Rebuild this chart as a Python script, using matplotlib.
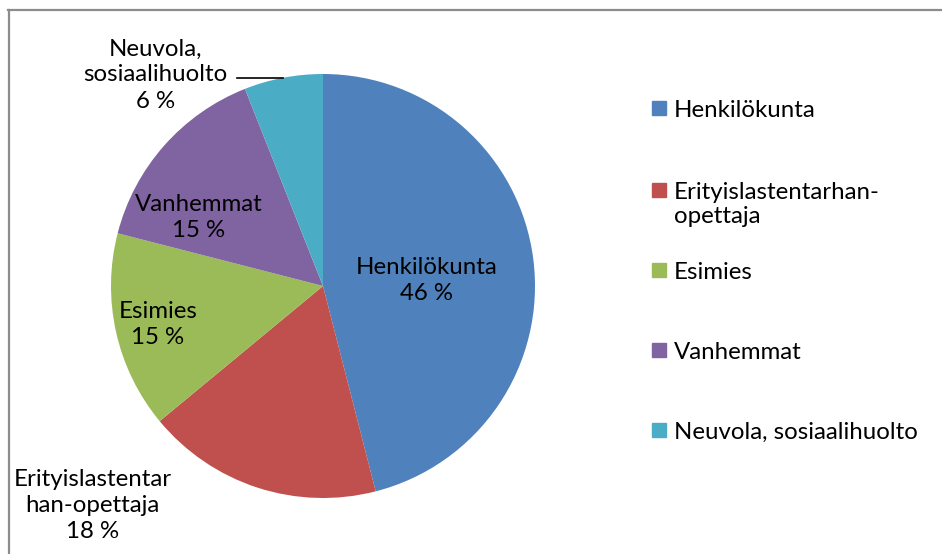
import matplotlib
matplotlib.use("Agg")
import matplotlib.pyplot as plt
from matplotlib.patches import Rectangle
from matplotlib.lines import Line2D
import numpy as np

categories = ["Henkilökunta", "Erityislastentarhan-opettaja", "Esimies", "Vanhemmat", "Neuvola, sosiaalihuolto"]
values = [46, 18, 15, 15, 6]
legend_labels = ["Henkilökunta", "Erityislastentarhan-\nopettaja", "Esimies", "Vanhemmat", "Neuvola, sosiaalihuolto"]
data_labels = ["Henkilökunta", "Erityislastentar\nhan-opettaja", "Esimies", "Vanhemmat", "Neuvola,\nsosiaalihuolto"]
colors = ["#4F81BD", "#C0504D", "#9BBB59", "#8064A2", "#4BACC6"]

plt.rcParams['font.family'] = ['Lato', 'DejaVu Sans']
FS = 17.3

W, H = 942, 554
fig = plt.figure(figsize=(W / 100, H / 100), dpi=100)

cx, cy, R = 323, 286, 212
ax = fig.add_axes([(cx - R) / W, (H - cy - R) / H, 2 * R / W, 2 * R / H])
wedges, _ = ax.pie(values, colors=colors, startangle=90, counterclock=False,
                   radius=1, wedgeprops=dict(linewidth=0))
ax.set_xlim(-1, 1)
ax.set_ylim(-1, 1)
ax.set_aspect('auto')
ax.axis('off')

# data label positions (radius fraction, angle) relative to pie center
label_pos = [(0.49, 3), (1.50, 223.6), (0.80, 193), (0.67, 151), (1.27, 128.4)]
for lab, v, (r, ang) in zip(data_labels, values, label_pos):
    x = r * np.cos(np.radians(ang))
    y = r * np.sin(np.radians(ang))
    ax.text(x, y, f"{lab}\n{v} %", ha='center', va='center', fontsize=FS,
            linespacing=1.3, clip_on=False)

# leader line for small slice
ax.add_line(Line2D([-0.406, -0.19], [0.981, 0.981], color='black', lw=1.2, clip_on=False))

# legend
lx_sq, lx_txt = 652, 674
ly = [108, 190, 270, 350, 430]
for lab, c, y in zip(legend_labels, colors, ly):
    fig.patches.append(Rectangle((lx_sq / W, 1 - (y + 7) / H), 14 / W, 14 / H,
                                 transform=fig.transFigure, color=c))
    fig.text(lx_txt / W, 1 - (y - 8) / H, lab, ha='left', va='top', fontsize=FS,
             linespacing=1.2)

# chart border
fig.add_artist(Line2D([8 / W, 1], [1 - 9.5 / H, 1 - 9.5 / H], color='#8c8c8c', lw=1.6,
                      transform=fig.transFigure))
fig.add_artist(Line2D([8.5 / W, 8.5 / W], [0, 1 - 9.5 / H], color='#8c8c8c', lw=1.6,
                      transform=fig.transFigure))

fig.savefig("out.png", dpi=100)
